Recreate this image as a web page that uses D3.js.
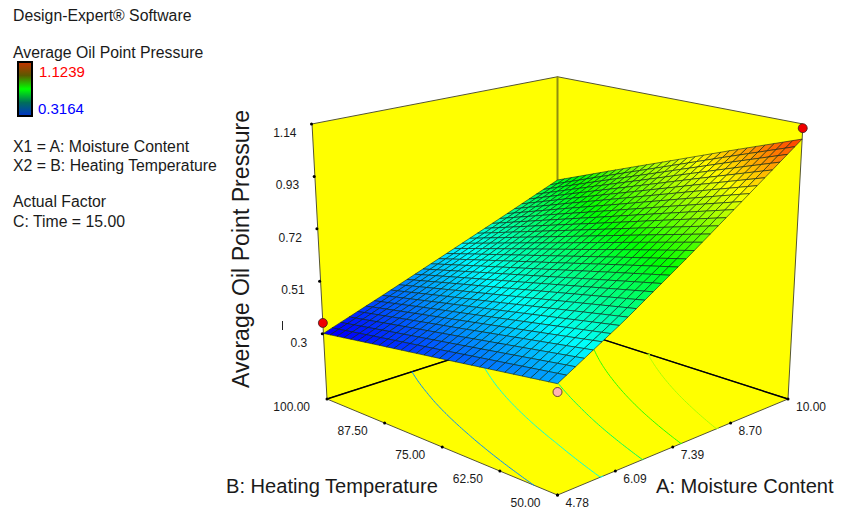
<!DOCTYPE html>
<html>
<head>
<meta charset="utf-8">
<script src="https://cdn.jsdelivr.net/npm/d3@7"></script>
<style>
  body { margin: 0; background: white; }
  text { font-family: "Liberation Sans", Arial, sans-serif; fill: #1a1a1a; }
</style>
</head>
<body>
<div id="graph"></div>
<script>
let w = 846;
let h = 511;

// axis ticks as printed
let aTicks = [4.78, 6.09, 7.39, 8.70, 10.00];
let bTicks = [100.00, 87.50, 75.00, 62.50, 50.00];
let zTicks = [0.3, 0.51, 0.72, 0.93, 1.14];

// surface heights at the tick crossings, one row per bTicks
let z100 = [0.300, 0.395, 0.492, 0.590, 0.689];
let z875 = [0.336, 0.444, 0.556, 0.672, 0.788];
let z75  = [0.371, 0.492, 0.620, 0.753, 0.886];
let z625 = [0.407, 0.541, 0.685, 0.835, 0.985];
let z50  = [0.443, 0.590, 0.749, 0.916, 1.082];
let zRows = [z100, z875, z75, z625, z50];

// design points
let pointA = [4.78, 10.00, 4.78];
let pointB = [100.00, 50.00, 50.00];
let pointZ = [0.344, 1.1239, 0.412];
let pointFill = ["#f00000", "#f00000", "#ffb3b3"];

// floor contour levels
let contourLevels = [0.43, 0.54, 0.645, 0.75, 0.855];

// legend
let legendMin = 0.3164;
let legendMax = 1.1239;
let colorStops = [0.3164, 0.5183, 0.7201, 0.9220, 1.1239];
let colorNames = ["#0000ff", "#00ffff", "#00ff00", "#ffff00", "#ff0000"];
let barStops = ["#c83200", "#5a5a00", "#00ff00", "#006e5a", "#0032c8"];

let infoLines = [
  ["Design-Expert® Software", 21],
  ["Average Oil Point Pressure", 58],
  ["X1 = A: Moisture Content", 152],
  ["X2 = B: Heating Temperature", 171],
  ["Actual Factor", 207],
  ["C: Time = 15.00", 227]
];

let meshSize = 30;

let aUnit = d3.scaleLinear().domain([4.78, 10]).range([-1, 1]);
let bUnit = d3.scaleLinear().domain([50, 100]).range([-1, 1]);
let zUnit = d3.scaleLinear().domain([0.02, 1.14]).range([0, 1]);

let color = d3.scaleLinear().domain(colorStops).range(colorNames).clamp(true);

// camera fitted to the corners of the box
function project(a, b, z){
  let u = aUnit(a);
  let v = bUnit(b);
  let k = zUnit(z);
  let q = 1 + 0.0647*(u+v) - 0.061*k;
  return [557.5 + 115.25*(u-v)/q, (399 - 16*(u+v) - 282.6*k - 1.2*(u+v)*k)/q];
}

// position inside the tick table, then height from the four nearest readings
let aIndex = d3.scaleLinear().domain(aTicks).range([0, 1, 2, 3, 4]);
let bIndex = d3.scaleLinear().domain(bTicks).range([0, 1, 2, 3, 4]);

function surface(a, b){
  let x = aIndex(a);
  let y = bIndex(b);
  let x0 = Math.min(Math.floor(x), 3);
  let y0 = Math.min(Math.floor(y), 3);
  let top = d3.interpolateNumber(zRows[y0][x0], zRows[y0][x0+1])(x-x0);
  let bot = d3.interpolateNumber(zRows[y0+1][x0], zRows[y0+1][x0+1])(x-x0);
  return d3.interpolateNumber(top, bot)(y-y0);
}

let svg = d3.select("#graph")
            .append("svg")
              .attr("width", w)
              .attr("height", h)
              .style("display", "block")
;

let line = d3.line();
let zLow = zUnit.domain()[0];
let zHigh = zUnit.domain()[1];

// walls and floor
let panels = [
  [[4.78,100,zLow],[10,100,zLow],[10,100,zHigh],[4.78,100,zHigh]],
  [[10,100,zLow],[10,50,zLow],[10,50,zHigh],[10,100,zHigh]],
  [[4.78,50,zLow],[10,50,zLow],[10,100,zLow],[4.78,100,zLow]]
];

svg.selectAll("path.panel").data(panels).enter()
  .append("path")
    .attr("class", "panel")
    .attr("d", d => line.curve(d3.curveLinearClosed)(d.map(p => project(p[0], p[1], p[2]))))
    .attr("fill", "#ffff00")
    .attr("stroke", "#555533")
    .attr("stroke-width", 1)
;
line.curve(d3.curveLinear);

// corner post at the back
svg.append("path")
    .attr("d", line([project(10,100,zLow), project(10,100,zHigh)]))
    .attr("fill", "none")
    .attr("stroke", "#8f8f10")
    .attr("stroke-width", 2)
;

// heavy floor lines at the back
let backLines = [
  [[4.78,100,zLow],[10,100,zLow]],
  [[10,100,zLow],[10,50,zLow]]
];
svg.selectAll("path.back").data(backLines).enter()
  .append("path")
    .attr("class", "back")
    .attr("d", d => line(d.map(p => project(p[0], p[1], p[2]))))
    .attr("fill", "none")
    .attr("stroke", "black")
    .attr("stroke-width", 1.4)
;

// contours on the floor, the box edges of each ring are dropped
let gridN = 80;
let aGrid = d3.scaleLinear().domain([0, gridN-1]).range([4.78, 10]);
let bGrid = d3.scaleLinear().domain([0, gridN-1]).range([50, 100]);
let gridValues = [];
for(let j = 0; j < gridN; j++){
  for(let i = 0; i < gridN; i++){
    gridValues.push(surface(aGrid(i), bGrid(j)));
  }
}
let rings = d3.contours().size([gridN, gridN]).smooth(true).thresholds(contourLevels)(gridValues);

function onEdge(p){
  return p[0] <= 0 || p[0] >= gridN || p[1] <= 0 || p[1] >= gridN;
}
function ringToLines(ring){
  let lines = [];
  let cur = [];
  for(let i = 0; i < ring.length-1; i++){
    if(onEdge(ring[i]) && onEdge(ring[i+1])){
      if(cur.length > 1) lines.push(cur);
      cur = [];
    }
    else {
      if(cur.length == 0) cur.push(ring[i]);
      cur.push(ring[i+1]);
    }
  }
  if(cur.length > 1) lines.push(cur);
  return lines;
}
function gridToScreen(p){
  let i = Math.max(0, Math.min(gridN-1, p[0]-0.5));
  let j = Math.max(0, Math.min(gridN-1, p[1]-0.5));
  return project(aGrid(i), bGrid(j), zLow);
}
rings.forEach(function(r){
  r.coordinates.forEach(function(poly){
    poly.forEach(function(ring){
      ringToLines(ring).forEach(function(l){
        svg.append("path")
            .attr("d", line(l.map(gridToScreen)))
            .attr("fill", "none")
            .attr("stroke", color(r.value))
            .attr("stroke-width", 1)
        ;
      });
    });
  });
});

// mesh, painted from the back corner to the front
let aMesh = d3.scaleLinear().domain([0, meshSize]).range([4.78, 10]);
let bMesh = d3.scaleLinear().domain([0, meshSize]).range([50, 100]);
let cells = [];
for(let i = 0; i < meshSize; i++){
  for(let j = 0; j < meshSize; j++){
    cells.push({i:i, j:j});
  }
}
cells.sort((p, q) => (q.i+q.j) - (p.i+p.j));

function meshPoint(i, j){
  return project(aMesh(i), bMesh(j), surface(aMesh(i), bMesh(j)));
}

svg.selectAll("path.cell").data(cells).enter()
  .append("path")
    .attr("class", "cell")
    .attr("d", d => line([
      meshPoint(d.i, d.j), meshPoint(d.i+1, d.j), meshPoint(d.i+1, d.j+1), meshPoint(d.i, d.j+1), meshPoint(d.i, d.j)
    ]))
    .attr("fill", d => color(surface(aMesh(d.i+0.5), bMesh(d.j+0.5))))
    .attr("stroke", "#062020")
    .attr("stroke-opacity", 0.75)
    .attr("stroke-width", 0.8)
;

// ticks sit evenly along the projected box edges
let aTickX = d3.scaleLinear().domain([4.78, 10]).range([project(4.78,50,zLow)[0], project(10,50,zLow)[0]]);
let aTickY = d3.scaleLinear().domain([4.78, 10]).range([project(4.78,50,zLow)[1], project(10,50,zLow)[1]]);
let bTickX = d3.scaleLinear().domain([50, 100]).range([project(4.78,50,zLow)[0], project(4.78,100,zLow)[0]]);
let bTickY = d3.scaleLinear().domain([50, 100]).range([project(4.78,50,zLow)[1], project(4.78,100,zLow)[1]]);
let zTickX = d3.scaleLinear().domain([0.3, 1.14]).range([322.3, 311.5]);
let zTickY = d3.scaleLinear().domain([0.3, 1.14]).range([333.7, 124]);

function addTicks(values, xs, ys, labelOf, dx, dy, anchor){
  svg.selectAll(null).data(values).enter()
    .append("circle")
      .attr("cx", d => xs(d))
      .attr("cy", d => ys(d))
      .attr("r", 1.5)
      .attr("fill", "black")
  ;
  svg.selectAll(null).data(values).enter()
    .append("text")
      .attr("x", d => xs(d) + dx)
      .attr("y", d => ys(d) + dy)
      .attr("text-anchor", anchor)
      .attr("font-size", 12)
      .text(labelOf)
  ;
}
addTicks(aTicks, aTickX, aTickY, d => d.toFixed(2), 8, 12, "start");
addTicks(bTicks, bTickX, bTickY, d => d.toFixed(2), -17, 12, "end");
addTicks(zTicks, zTickX, zTickY, d => String(d), -15, 13, "end");

// design points
svg.selectAll("circle.point").data(pointA).enter()
  .append("circle")
    .attr("class", "point")
    .attr("cx", (d, i) => project(d, pointB[i], pointZ[i])[0])
    .attr("cy", (d, i) => project(d, pointB[i], pointZ[i])[1])
    .attr("r", 4.5)
    .attr("fill", (d, i) => pointFill[i])
    .attr("stroke", "#402020")
    .attr("stroke-width", 0.8)
;

// small mark left of the axis
svg.append("line")
    .attr("x1", 282.5).attr("x2", 282.5)
    .attr("y1", 321).attr("y2", 330)
    .attr("stroke", "#222")
;

// axis titles
svg.append("text")
    .attr("transform", "translate(249,388) rotate(-90)")
    .attr("font-size", 23.1)
    .text("Average Oil Point Pressure")
;
svg.append("text").attr("x", 226).attr("y", 493).attr("font-size", 20.1).text("B: Heating Temperature");
svg.append("text").attr("x", 656).attr("y", 493).attr("font-size", 20.1).text("A: Moisture Content");

// info block
svg.selectAll("text.info").data(infoLines).enter()
  .append("text")
    .attr("class", "info")
    .attr("x", 13)
    .attr("y", d => d[1])
    .attr("font-size", 15.8)
    .text(d => d[0])
;

// legend bar
let grad = svg.append("defs").append("linearGradient")
    .attr("id", "bar")
    .attr("x1", 0).attr("x2", 0).attr("y1", 0).attr("y2", 1)
;
grad.selectAll("stop").data(barStops).enter()
  .append("stop")
    .attr("offset", (d, i) => i/(barStops.length-1))
    .attr("stop-color", d => d)
;
svg.append("rect")
    .attr("x", 18).attr("y", 62).attr("width", 14).attr("height", 54)
    .attr("fill", "url(#bar)")
    .attr("stroke", "black")
    .attr("stroke-width", 2)
;
svg.append("text").attr("x", 39).attr("y", 77).attr("font-size", 15).style("fill", "#ff0000").text(legendMax.toFixed(4));
svg.append("text").attr("x", 38).attr("y", 114).attr("font-size", 15).style("fill", "#0000ff").text(legendMin.toFixed(4));
</script>
</body>
</html>
